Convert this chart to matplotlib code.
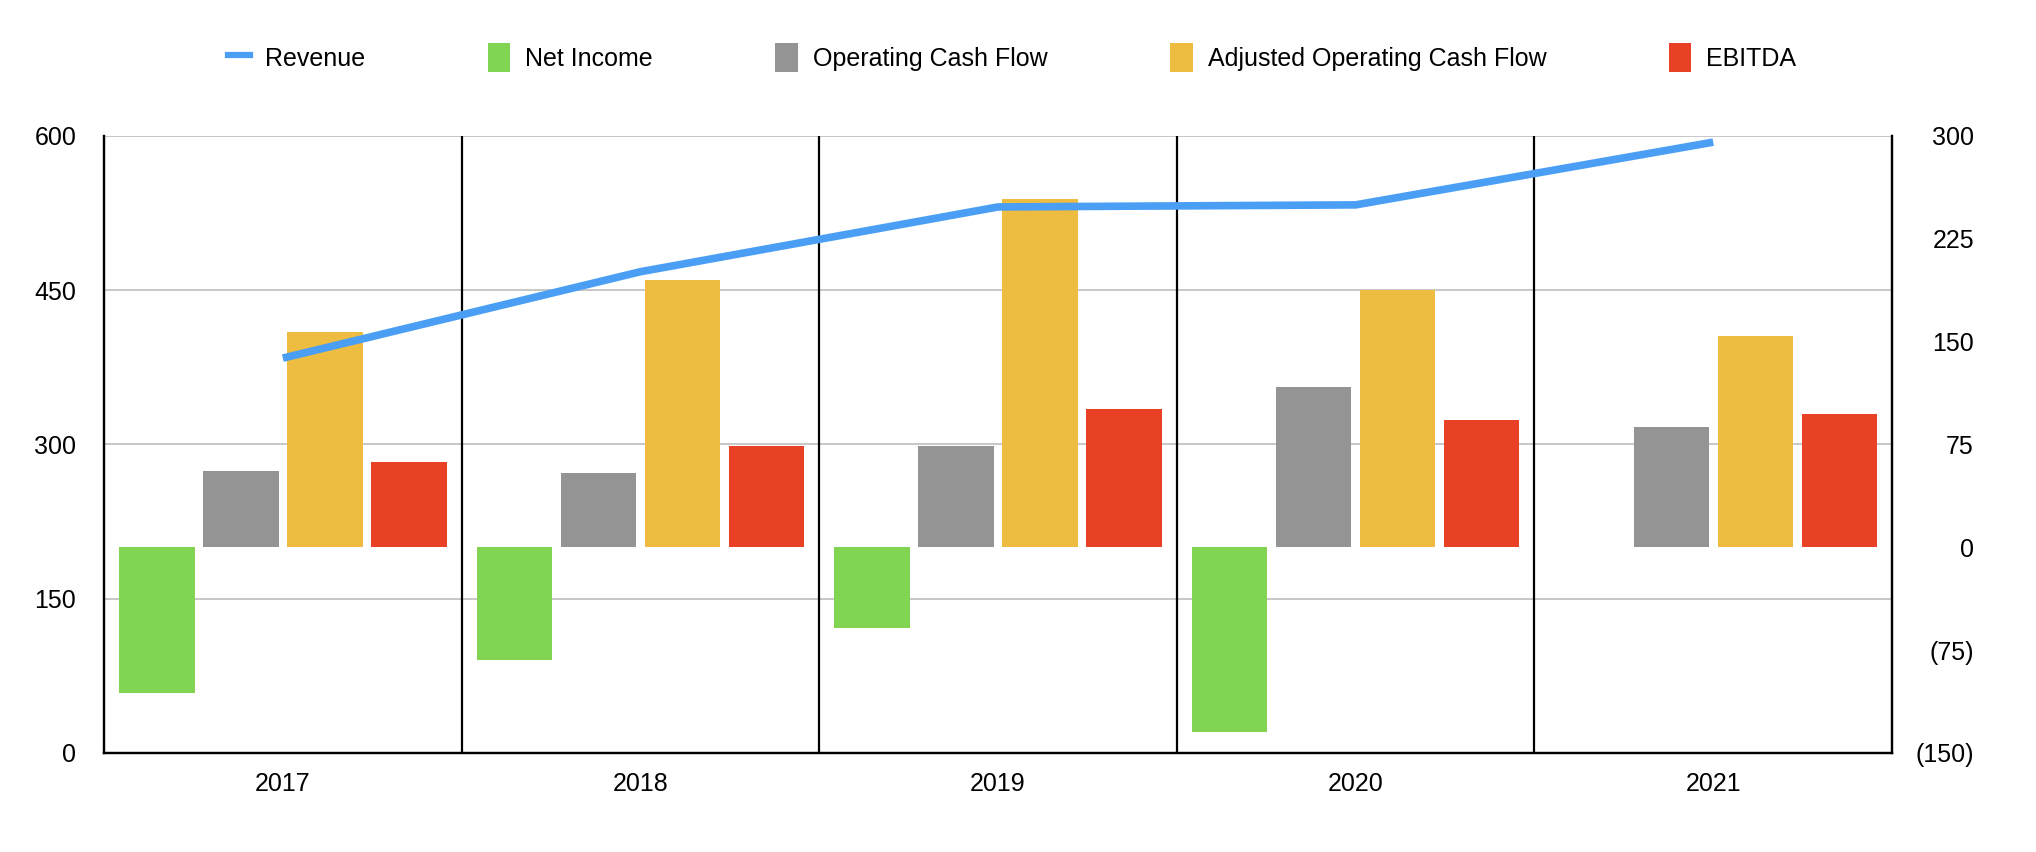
import matplotlib
matplotlib.use("Agg")
import matplotlib.pyplot as plt
from matplotlib.lines import Line2D
from matplotlib.patches import Patch
import numpy as np

plt.rcParams['font.family'] = ['Liberation Sans', 'DejaVu Sans']

years = ['2017', '2018', '2019', '2020', '2021']
revenue = [384, 468, 531, 533, 594]
net_income = [-106, -82, -59, -135, 0]
op_cash_flow = [56, 54, 74, 117, 88]
adj_op_cash_flow = [157, 195, 254, 188, 154]
ebitda = [62, 74, 101, 93, 97]

left_ticks = [0, 150, 300, 450, 600]
right_ticks = [-150, -75, 0, 75, 150, 225, 300]

c_rev = '#4a9ff5'
c_ni = '#82d552'
c_ocf = '#949494'
c_adj = '#eebc40'
c_ebitda = '#e94126'

fig = plt.figure(figsize=(20.36, 8.52), dpi=100)
ax = fig.add_axes([0.0511, 0.1162, 0.8782, 0.7242])

x = np.arange(len(years))
w = 0.211
step = 0.235
series = [(net_income, c_ni), (op_cash_flow, c_ocf), (adj_op_cash_flow, c_adj), (ebitda, c_ebitda)]
for i, (vals, col) in enumerate(series):
    ax.bar(x + (i - 1.5) * step, vals, width=w, color=col, zorder=2)

ax.set_xlim(-0.5, len(years) - 0.5)
ax.set_ylim(-150, 300)
ax.set_yticks(right_ticks)
ax.set_yticklabels(['(%d)' % -t if t < 0 else str(t) for t in right_ticks])

# horizontal grid lines follow the left (revenue) ticks
for t in left_ticks[1:]:
    ax.axhline(t * 0.75 - 150, color='#b8b8b8', lw=1.1, zorder=0)
for b in x[:-1] + 0.5:
    ax.axvline(b, color='black', lw=1.6, zorder=1)

ax.set_xticks(x)
ax.set_xticklabels(years)

ax2 = ax.twinx()
ax2.plot(x, revenue, color=c_rev, lw=5.5, solid_capstyle='butt', zorder=3)
ax2.set_ylim(0, 600)
ax2.set_yticks(left_ticks)

ax.yaxis.tick_right()
ax2.yaxis.tick_left()

for a in (ax, ax2):
    a.spines['top'].set_visible(False)
    for s in ('left', 'right', 'bottom'):
        a.spines[s].set_color('black')
        a.spines[s].set_linewidth(1.6)

ax.tick_params(axis='x', length=0, pad=14, labelsize=18)
ax.tick_params(axis='y', length=0, pad=59, labelsize=18)
for lab in ax.get_yticklabels():
    lab.set_horizontalalignment('right')
ax2.tick_params(axis='y', length=0, pad=20, labelsize=18)

handles = [
    Line2D([0], [0], color=c_rev, lw=4.5),
    Patch(facecolor=c_ni),
    Patch(facecolor=c_ocf),
    Patch(facecolor=c_adj),
    Patch(facecolor=c_ebitda),
]
labels = ['Revenue', 'Net Income', 'Operating Cash Flow', 'Adjusted Operating Cash Flow', 'EBITDA']
fig.legend(handles, labels, loc='center', bbox_to_anchor=(0.497, 0.932), ncol=5,
           frameon=False, fontsize=18, handlelength=0.9, handleheight=1.4,
           handletextpad=0.6, columnspacing=4.9)

fig.savefig('out.png', dpi=100)
